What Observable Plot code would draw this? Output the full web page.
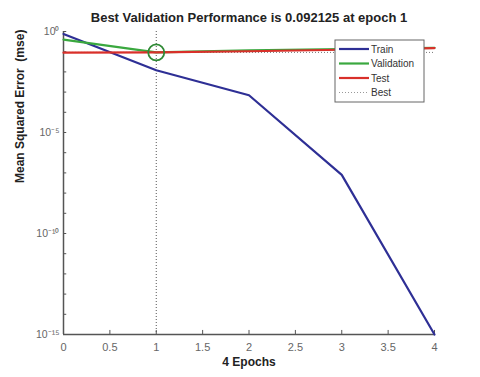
<!DOCTYPE html>
<html><head><meta charset="utf-8">
<script src="https://cdn.jsdelivr.net/npm/d3@7"></script>
<script src="https://cdn.jsdelivr.net/npm/@observablehq/plot@0.6"></script>
<style>
body{margin:0;background:#fff;font-family:"Liberation Sans",Arial,sans-serif;}
</style></head><body><div id="chart"></div>
<script>
const epochs = [0, 1, 2, 3, 4];
const train = [0.75, 0.012, 0.0007, 8e-8, 1e-15];
const validation = [0.4, 0.092125, 0.115, 0.135, 0.155];
const test = [0.09, 0.092, 0.105, 0.125, 0.15];
const bestEpoch = 1;
const bestPerf = 0.092125;
const yTicks = [1e0,1e-1,1e-2,1e-3,1e-4,1e-5,1e-6,1e-7,1e-8,1e-9,1e-10,1e-11,1e-12,1e-13,1e-14,1e-15];
const yLabels = {"0":"10⁰","-5":"10⁻⁵","-10":"10⁻¹⁰","-15":"10⁻¹⁵"};
const xTicks = [0,0.5,1,1.5,2,2.5,3,3.5,4];
const seriesNames = ["Train","Validation","Test"];
const seriesColors = ["#2e2f95","#3aa83f","#d9302a"];

const rows = [];
seriesNames.forEach((s,k)=>{
  const vals = [train,validation,test][k];
  epochs.forEach((e,i)=>rows.push({series:s, epoch:e, mse:vals[i]}));
});

const plot = Plot.plot({
  width: 480, height: 377,
  marginLeft: 63, marginRight: 46, marginTop: 31, marginBottom: 43,
  style: {fontFamily: '"Liberation Sans",Arial,sans-serif', background: "#fff"},
  x: {domain: [0,4]},
  y: {type: "log", domain: [1e-15, 1]},
  color: {domain: seriesNames, range: seriesColors},
  marks: [
    Plot.axisX({ticks: xTicks, tickFormat: d=>String(d), tickSize: 0, tickPadding: 9, fontSize: 11, color:"#666", label: null}),
    Plot.ruleX(xTicks, {x: d=>d, y1: 1e-15, y2: 10**-14.8, stroke:"#555"}),
    Plot.axisY({ticks: yTicks, tickFormat: d=>yLabels[String(Math.round(Math.log10(d)))] ?? "", tickSize: 0, tickPadding: 4, fontSize: 10.5, color:"#666", label: null}),
    Plot.ruleY(yTicks, {y: d=>d, x1: 0, x2: 0.035, stroke:"#555"}),
    Plot.ruleY([1e-15], {stroke:"#555", strokeWidth:1.5}),
    Plot.ruleX([0], {stroke:"#555", strokeWidth:1.5}),
    Plot.ruleX([bestEpoch], {stroke:"#555", strokeDasharray:"1,2", strokeWidth:1}),
    Plot.ruleY([bestPerf], {stroke:"#777", strokeDasharray:"1,2", strokeWidth:1}),
    Plot.line(rows, {x:"epoch", y:"mse", stroke:"series", strokeWidth:2.2}),
    Plot.dot([{epoch:bestEpoch, mse:bestPerf}], {x:"epoch", y:"mse", r:8, stroke:"#2f8a35", strokeWidth:1.8, fill:"none"}),
    Plot.text(["Best Validation Performance is 0.092125 at epoch 1"], {frameAnchor:"top", dy:-19, fontSize:13, fontWeight:"bold", fill:"#222"}),
    Plot.text(["4 Epochs"], {frameAnchor:"bottom", dy:31, fontSize:12, fontWeight:"bold", fill:"#222"}),
    Plot.text(["Mean Squared Error  (mse)"], {frameAnchor:"left", dx:-43, rotate:-90, fontSize:12, fontWeight:"bold", fill:"#222"})
  ]
});
document.getElementById("chart").append(plot);

// legend box
const svg = d3.select(plot);
const lg = svg.append("g").attr("transform","translate(335,40)");
lg.append("rect").attr("width",89).attr("height",62).attr("fill","#fff").attr("stroke","#666").attr("stroke-width",1);
const items = [...seriesNames.map((s,i)=>({name:s,color:seriesColors[i],dash:null})), {name:"Best",color:"#999",dash:"1,2"}];
items.forEach((it,i)=>{
  const y = 9 + i*14.5;
  lg.append("line").attr("x1",4).attr("x2",34).attr("y1",y).attr("y2",y)
    .attr("stroke",it.color).attr("stroke-width",it.dash?1:2.2).attr("stroke-dasharray",it.dash);
  lg.append("text").attr("x",36).attr("y",y).attr("dy","0.35em").attr("text-anchor","start")
    .attr("font-size",10).attr("fill","#333").text(it.name);
});
</script></body></html>
